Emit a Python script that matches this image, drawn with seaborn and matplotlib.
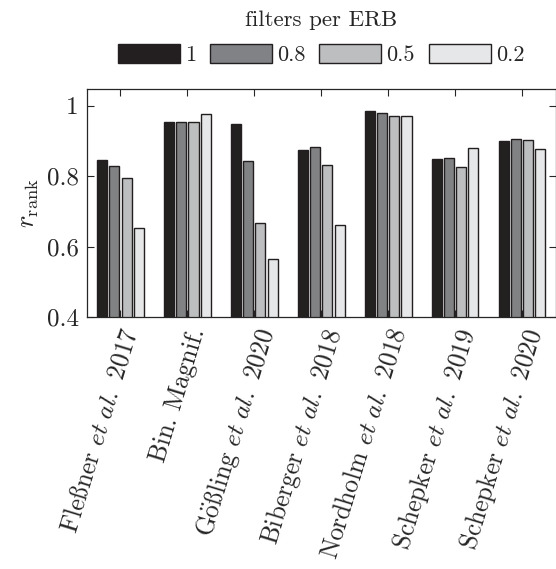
import matplotlib
matplotlib.use("Agg")
import matplotlib.pyplot as plt
from matplotlib.patches import Patch
import seaborn as sns
import pandas as pd

SZ = "\u00bc"  # position of the sharp s glyph in the BaKoMa cmr10 font
studies = ["Fle" + SZ + r"ner $\mathit{et\ al.}$ 2017", r"Bin. Magnif.",
           r"G$\ddot{\mathrm{o}}$" + SZ + r"ling $\mathit{et\ al.}$ 2020",
           r"Biberger $\mathit{et\ al.}$ 2018",
           r"Nordholm $\mathit{et\ al.}$ 2018", r"Schepker $\mathit{et\ al.}$ 2019",
           r"Schepker $\mathit{et\ al.}$ 2020"]
filters = ["1", "0.8", "0.5", "0.2"]
r_f1 = [0.846, 0.953, 0.948, 0.876, 0.986, 0.848, 0.899]
r_f08 = [0.829, 0.953, 0.843, 0.884, 0.979, 0.851, 0.905]
r_f05 = [0.795, 0.953, 0.666, 0.831, 0.972, 0.826, 0.903]
r_f02 = [0.653, 0.976, 0.566, 0.661, 0.971, 0.880, 0.877]
colors = ["#231f20", "#808285", "#bcbec0", "#e6e7e8"]
ytick_vals = [0.4, 0.6, 0.8, 1.0]
ytick_labels = ["0.4", "0.6", "0.8", "1"]

rows = []
for f, vals in zip(filters, [r_f1, r_f08, r_f05, r_f02]):
    for s, v in zip(studies, vals):
        rows.append({"study": s, "filters": f, "r": v})
df = pd.DataFrame(rows)

sns.set_theme(style="ticks")
plt.rcParams["font.family"] = ["cmr10", "STIXGeneral"]
plt.rcParams["mathtext.fontset"] = "cm"
plt.rcParams["axes.formatter.use_mathtext"] = True

txt = "#262626"
fig = plt.figure(figsize=(5.56, 5.69), dpi=100)
ax = fig.add_axes([87 / 556, 1 - 317 / 569, (555.5 - 87) / 556, (317 - 89) / 569])

sns.barplot(data=df, x="study", y="r", hue="filters", order=studies,
            hue_order=filters, palette=dict(zip(filters, colors)),
            width=0.73, gap=0.17, edgecolor="#231f20", linewidth=1.0,
            legend=False, ax=ax)

ax.set_xlim(-0.5, len(studies) - 0.5)
ax.set_ylim(0.4, 1.048)
ax.set_yticks(ytick_vals)
ax.set_yticklabels(ytick_labels)
ax.set_xticks(range(len(studies)))
ax.set_xticklabels(studies, rotation=73, ha="right", rotation_mode="anchor")
ax.tick_params(direction="in", top=True, right=True, length=5, width=0.8,
               colors=txt, labelsize=18, pad=6)
ax.tick_params(axis="x", labelsize=18.3, pad=6)
for sp in ax.spines.values():
    sp.set_visible(True)
    sp.set_linewidth(0.9)
    sp.set_color(txt)
ax.set_xlabel("")
ax.set_ylabel(r"$r_{\mathrm{rank}}$", fontsize=19, color=txt, labelpad=4)

fig.text(321 / 556, 1 - 20 / 569, "filters per ERB", ha="center", va="center",
         fontsize=16.5, color=txt)
handles = [Patch(facecolor=c, edgecolor="#231f20", linewidth=1.0) for c in colors]
leg = fig.legend(handles, filters, loc="center",
                 bbox_to_anchor=(321 / 556, 1 - 54.5 / 569), ncol=4, frameon=False,
                 fontsize=16, handlelength=2.8, handleheight=0.95,
                 handletextpad=0.22, columnspacing=0.62, borderaxespad=0.0,
                 borderpad=0.0)
for t in leg.get_texts():
    t.set_color(txt)

fig.savefig("out.png", dpi=100)
